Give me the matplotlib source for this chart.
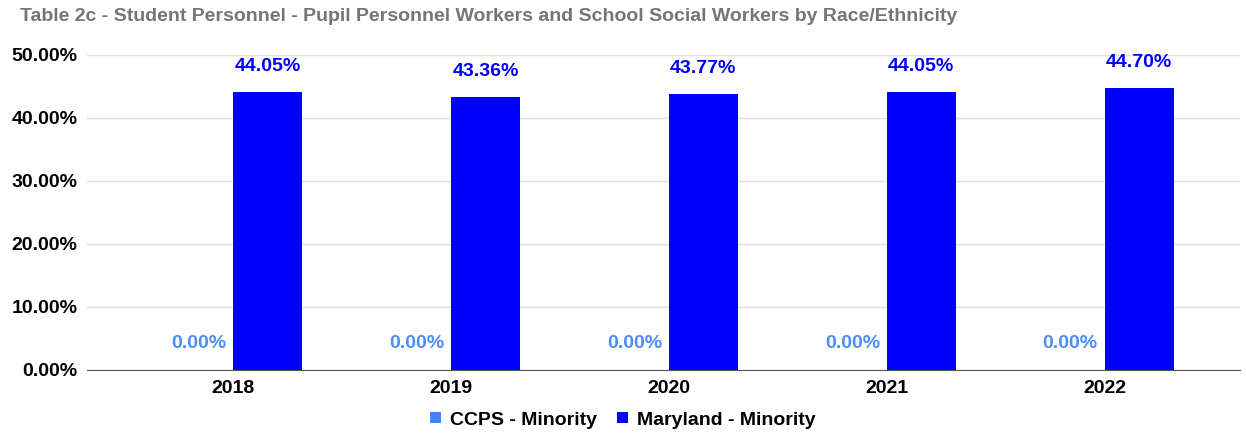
import matplotlib
matplotlib.use('Agg')
import matplotlib.pyplot as plt
import numpy as np

plt.rcParams['font.family'] = ['Liberation Sans', 'DejaVu Sans']

# data
years = ['2018', '2019', '2020', '2021', '2022']
ccps_minority = [0.0, 0.0, 0.0, 0.0, 0.0]
maryland_minority = [44.05, 43.36, 43.77, 44.05, 44.70]

fig = plt.figure(figsize=(12.46, 4.33), dpi=100)
ax = fig.add_axes([0.07, 0.146, 0.925, 0.727])

x = np.arange(len(years))
w = 0.316
b1 = ax.bar(x - w / 2, ccps_minority, w, color='#4285f4', label='CCPS - Minority')
b2 = ax.bar(x + w / 2, maryland_minority, w, color='#0000ff', label='Maryland - Minority')

for xi, v in zip(x - w / 2, ccps_minority):
    ax.annotate('%.2f%%' % v, (xi, v), xytext=(0, 19), textcoords='offset points',
                ha='center', va='center', color='#4a8df8', fontsize=14, fontweight='bold')
for xi, v in zip(x + w / 2, maryland_minority):
    ax.annotate('%.2f%%' % v, (xi, v), xytext=(0, 18.5), textcoords='offset points',
                ha='center', va='center', color='#0000ff', fontsize=14, fontweight='bold')

ax.set_ylim(0, 50)
ax.set_xlim(-0.67, 4.62)
ax.set_yticks([0, 10, 20, 30, 40, 50])
ax.set_yticklabels(['%.2f%%' % t for t in [0, 10, 20, 30, 40, 50]])
ax.set_xticks(x)
ax.set_xticklabels(years)
for lab in ax.get_xticklabels() + ax.get_yticklabels():
    lab.set_fontweight('bold')
    lab.set_fontsize(14)
ax.tick_params(axis='x', length=0, pad=7)
ax.tick_params(axis='y', length=0, pad=7)
ax.grid(axis='y', color='#dddddd', linewidth=1)
ax.set_axisbelow(True)
for s in ['top', 'right', 'left']:
    ax.spines[s].set_visible(False)
ax.spines['bottom'].set_color('#555555')

fig.text(0.016, 0.962, 'Table 2c - Student Personnel - Pupil Personnel Workers and School Social Workers by Race/Ethnicity',
         color='#757575', fontsize=14, fontweight='bold', va='center')

leg = fig.legend(handles=[b1, b2], loc='center', bbox_to_anchor=(0.5, 0.03), ncol=2, frameon=False,
                 prop={'weight': 'bold', 'size': 14}, handlelength=0.55, handleheight=0.55,
                 handletextpad=0.5, columnspacing=1.0)

fig.savefig('out.png', dpi=100)
